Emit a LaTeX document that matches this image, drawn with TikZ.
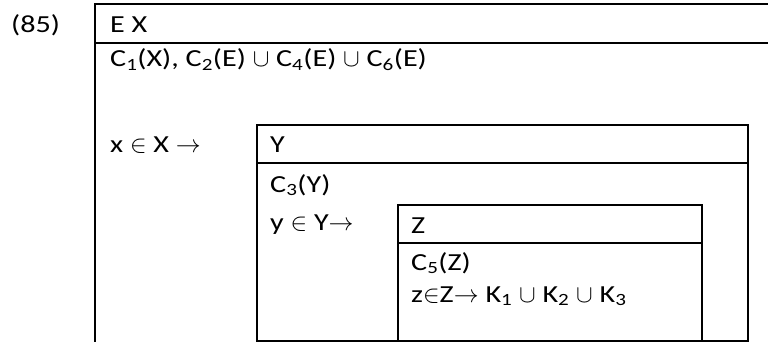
\documentclass[tikz,border=0pt]{standalone}
\usepackage{fontspec}
\setmainfont[FakeStretch=1.23]{Carlito}
\begin{document}
\begin{tikzpicture}[x=1pt,y=-1pt,
  txt/.style={anchor=base west, inner sep=0pt, font=\fontsize{24.5}{29}\selectfont},
  frame/.style={draw=black, line width=2pt}]
\useasboundingbox (0,0) rectangle (768,342);
\begin{scope}
\clip (0,0) rectangle (768,342);
% outer box (E X)
\coordinate (onw) at (95,4);
\coordinate (osw) at (95,350);
\coordinate (one) at (790,4);
\coordinate (ohl) at (95,43);
\coordinate (ohr) at (790,43);
\draw[frame] (osw) -- (onw) -- (one);
\draw[frame] (ohl) -- (ohr);
% Y box
\node[frame, anchor=north west, minimum width=491, minimum height=216, inner sep=0pt] (ybox) at (256,124) {};
\coordinate (yhl) at (256,163);
\draw[frame] (yhl) -- (yhl -| ybox.east);
% Z box
\node[frame, anchor=north west, minimum width=304, minimum height=136, inner sep=0pt] (zbox) at (397,204) {};
\coordinate (zhl) at (397,243);
\draw[frame] (zhl) -- (zhl -| zbox.east);
\end{scope}
% texts
\node[txt] (num) at (11,33) {(85)};
\node[txt] (ex) at (110,33) {E X};
\node[txt] (cx) at (110,67) {C\textsubscript{1}(X), C\textsubscript{2}(E) $\cup$ C\textsubscript{4}(E) $\cup$ C\textsubscript{6}(E)};
\node[txt] (xin) at (110,153) {x $\in$ X $\rightarrow$};
\node[txt] (y) at (270,153) {Y};
\node[txt] (c3) at (270,192) {C\textsubscript{3}(Y)};
\node[txt] (yin) at (270,230) {y $\in$ Y$\rightarrow$};
\node[txt] (z) at (411,233) {Z};
\node[txt] (c5) at (411,270) {C\textsubscript{5}(Z)};
\node[txt] (zin) at (411,302) {z$\in$Z$\rightarrow$ K\textsubscript{1} $\cup$ K\textsubscript{2} $\cup$ K\textsubscript{3}};
\end{tikzpicture}
\end{document}
